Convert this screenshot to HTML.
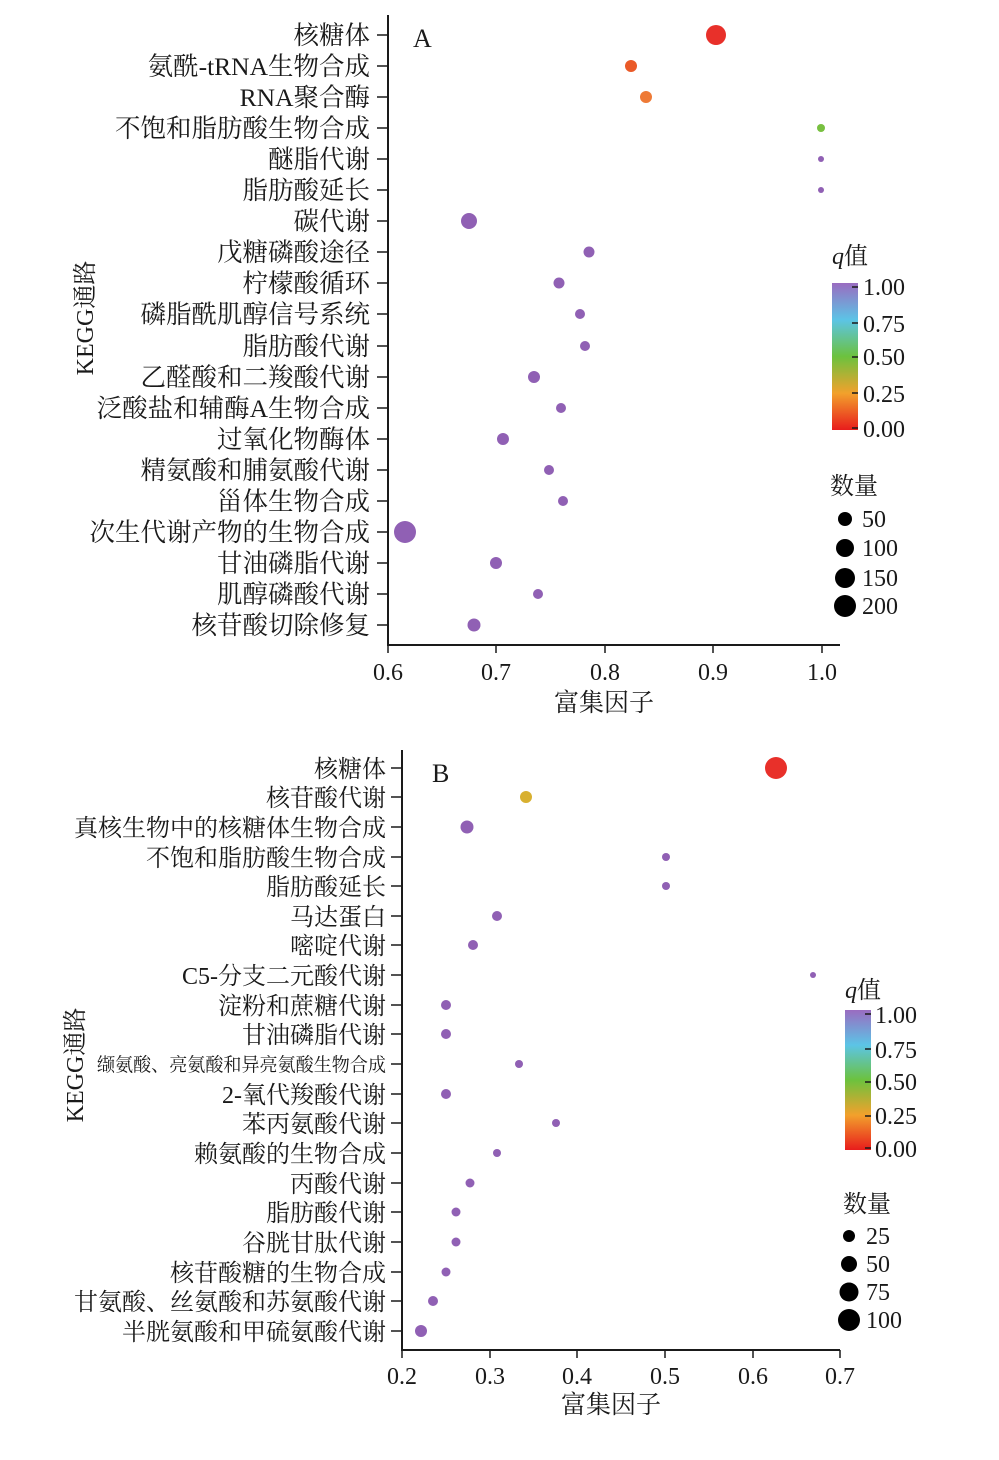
<!DOCTYPE html>
<html><head><meta charset="utf-8"><style>
html,body{margin:0;padding:0;background:#fff}
svg{display:block}
text{font-family:"Liberation Serif","Noto Serif CJK SC",serif;fill:#1a1a1a}
</style></head><body>
<svg width="999" height="1460" viewBox="0 0 999 1460" xmlns="http://www.w3.org/2000/svg">
<defs>
<linearGradient id="g" x1="0" y1="0" x2="0" y2="1">
<stop offset="0" stop-color="#9a6cc0"/>
<stop offset="0.25" stop-color="#5cc4e6"/>
<stop offset="0.5" stop-color="#6cc23e"/>
<stop offset="0.75" stop-color="#f2a12c"/>
<stop offset="1" stop-color="#e81c1c"/>
</linearGradient>
</defs>
<g stroke="#1a1a1a" stroke-width="2" fill="none">
<path d="M388 15 V645 H840"/>
<path d="M402 750 V1350 H840"/>
</g>
<g font-size="25.5" text-anchor="end">
<text x="370" y="44">核糖体</text>
<text x="370" y="75">氨酰-tRNA生物合成</text>
<text x="370" y="106">RNA聚合酶</text>
<text x="370" y="137">不饱和脂肪酸生物合成</text>
<text x="370" y="168">醚脂代谢</text>
<text x="370" y="199">脂肪酸延长</text>
<text x="370" y="230">碳代谢</text>
<text x="370" y="261">戊糖磷酸途径</text>
<text x="370" y="292">柠檬酸循环</text>
<text x="370" y="323">磷脂酰肌醇信号系统</text>
<text x="370" y="355">脂肪酸代谢</text>
<text x="370" y="386">乙醛酸和二羧酸代谢</text>
<text x="370" y="417">泛酸盐和辅酶A生物合成</text>
<text x="370" y="448">过氧化物酶体</text>
<text x="370" y="479">精氨酸和脯氨酸代谢</text>
<text x="370" y="510">甾体生物合成</text>
<text x="370" y="541">次生代谢产物的生物合成</text>
<text x="370" y="572">甘油磷脂代谢</text>
<text x="370" y="603">肌醇磷酸代谢</text>
<text x="370" y="634">核苷酸切除修复</text>
</g>
<g stroke="#1a1a1a" stroke-width="1.5">
<path d="M377 35h11M377 66h11M377 97h11M377 128h11M377 159h11M377 190h11M377 221h11M377 252h11M377 283h11M377 314h11M377 346h11M377 377h11M377 408h11M377 439h11M377 470h11M377 501h11M377 532h11M377 563h11M377 594h11M377 625h11"/>
<path d="M388 645v8M496 645v8M605 645v8M713 645v8M822 645v8"/>
<path d="M391 768h11M391 797h11M391 827h11M391 857h11M391 886h11M391 916h11M391 945h11M391 975h11M391 1005h11M391 1034h11M391 1064h11M391 1094h11M391 1123h11M391 1153h11M391 1183h11M391 1212h11M391 1242h11M391 1272h11M391 1301h11M391 1331h11"/>
<path d="M402 1350v8M490 1350v8M577 1350v8M665 1350v8M753 1350v8M840 1350v8"/>
</g>
<g font-size="24" text-anchor="middle">
<text x="388" y="680">0.6</text><text x="496" y="680">0.7</text><text x="605" y="680">0.8</text><text x="713" y="680">0.9</text><text x="822" y="680">1.0</text>
<text x="604" y="711" font-size="25">富集因子</text>
<text x="402" y="1384">0.2</text><text x="490" y="1384">0.3</text><text x="577" y="1384">0.4</text><text x="665" y="1384">0.5</text><text x="753" y="1384">0.6</text><text x="840" y="1384">0.7</text>
<text x="611" y="1413" font-size="25">富集因子</text>
<text transform="translate(93,318) rotate(-90)">KEGG通路</text>
<text transform="translate(83,1065) rotate(-90)">KEGG通路</text>
</g>
<text x="413" y="47" font-size="26">A</text>
<text x="432" y="782" font-size="26">B</text>
<g>
<circle cx="716" cy="35" r="10" fill="#e8302a"/>
<circle cx="631" cy="66" r="6" fill="#ea5a28"/>
<circle cx="646" cy="97" r="6" fill="#ee7a36"/>
<circle cx="821" cy="128" r="4" fill="#78c040"/>
<g fill="#9060b4">
<circle cx="821" cy="159" r="3"/><circle cx="821" cy="190" r="3"/>
<circle cx="469" cy="221" r="8"/><circle cx="589" cy="252" r="5.5"/>
<circle cx="559" cy="283" r="5.5"/><circle cx="580" cy="314" r="5"/>
<circle cx="585" cy="346" r="5"/><circle cx="534" cy="377" r="6"/>
<circle cx="561" cy="408" r="5"/><circle cx="503" cy="439" r="6"/>
<circle cx="549" cy="470" r="5"/><circle cx="563" cy="501" r="5"/>
<circle cx="405" cy="532" r="11"/><circle cx="496" cy="563" r="6"/>
<circle cx="538" cy="594" r="5"/><circle cx="474" cy="625" r="6.5"/>
</g>
<circle cx="776" cy="768" r="11" fill="#e8302a"/>
<circle cx="526" cy="797" r="6" fill="#d8b030"/>
<g fill="#9060b4">
<circle cx="467" cy="827" r="6.5"/><circle cx="666" cy="857" r="4"/>
<circle cx="666" cy="886" r="4"/><circle cx="497" cy="916" r="5"/>
<circle cx="473" cy="945" r="5"/><circle cx="813" cy="975" r="3"/>
<circle cx="446" cy="1005" r="5"/><circle cx="446" cy="1034" r="5"/>
<circle cx="519" cy="1064" r="4"/><circle cx="446" cy="1094" r="5"/>
<circle cx="556" cy="1123" r="4"/><circle cx="497" cy="1153" r="4"/>
<circle cx="470" cy="1183" r="4.5"/><circle cx="456" cy="1212" r="4.5"/>
<circle cx="456" cy="1242" r="4.5"/><circle cx="446" cy="1272" r="4.5"/>
<circle cx="433" cy="1301" r="5"/><circle cx="421" cy="1331" r="6"/>
</g>
</g>
<g font-size="24" text-anchor="end">
<text x="386" y="777">核糖体</text>
<text x="386" y="806">核苷酸代谢</text>
<text x="386" y="836">真核生物中的核糖体生物合成</text>
<text x="386" y="866">不饱和脂肪酸生物合成</text>
<text x="386" y="895">脂肪酸延长</text>
<text x="386" y="925">马达蛋白</text>
<text x="386" y="954">嘧啶代谢</text>
<text x="386" y="984">C5-分支二元酸代谢</text>
<text x="386" y="1014">淀粉和蔗糖代谢</text>
<text x="386" y="1043">甘油磷脂代谢</text>
<text x="386" y="1071" font-size="19" textLength="289" lengthAdjust="spacingAndGlyphs">缬氨酸、亮氨酸和异亮氨酸生物合成</text>
<text x="386" y="1103">2-氧代羧酸代谢</text>
<text x="386" y="1132">苯丙氨酸代谢</text>
<text x="386" y="1162">赖氨酸的生物合成</text>
<text x="386" y="1192">丙酸代谢</text>
<text x="386" y="1221">脂肪酸代谢</text>
<text x="386" y="1251">谷胱甘肽代谢</text>
<text x="386" y="1281">核苷酸糖的生物合成</text>
<text x="386" y="1310">甘氨酸、丝氨酸和苏氨酸代谢</text>
<text x="386" y="1340">半胱氨酸和甲硫氨酸代谢</text>
</g>
<text x="832" y="264" font-size="24"><tspan font-style="italic">q</tspan>值</text>
<rect x="832" y="283" width="26" height="147" fill="url(#g)"/>
<g stroke="#1a1a1a" stroke-width="1.5"><path d="M852 287h6M852 323h6M852 357h6M852 393h6M852 428h6"/></g>
<g font-size="24"><text x="863" y="295">1.00</text><text x="863" y="332">0.75</text><text x="863" y="365">0.50</text><text x="863" y="402">0.25</text><text x="863" y="437">0.00</text></g>
<text x="830" y="494" font-size="24">数量</text>
<g fill="#000"><circle cx="845" cy="519" r="7"/><circle cx="845" cy="548" r="9"/><circle cx="845" cy="578" r="10"/><circle cx="845" cy="606" r="11"/></g>
<g font-size="24"><text x="862" y="527">50</text><text x="862" y="556">100</text><text x="862" y="586">150</text><text x="862" y="614">200</text></g>
<text x="845" y="998" font-size="24"><tspan font-style="italic">q</tspan>值</text>
<rect x="845" y="1010" width="26" height="140" fill="url(#g)"/>
<g stroke="#1a1a1a" stroke-width="1.5"><path d="M865 1014h6M865 1049h6M865 1082h6M865 1116h6M865 1148h6"/></g>
<g font-size="24"><text x="875" y="1023">1.00</text><text x="875" y="1058">0.75</text><text x="875" y="1090">0.50</text><text x="875" y="1124">0.25</text><text x="875" y="1157">0.00</text></g>
<text x="843" y="1212" font-size="24">数量</text>
<g fill="#000"><circle cx="849" cy="1236" r="6"/><circle cx="849" cy="1264" r="8"/><circle cx="849" cy="1292" r="9.5"/><circle cx="849" cy="1320" r="11"/></g>
<g font-size="24"><text x="866" y="1244">25</text><text x="866" y="1272">50</text><text x="866" y="1300">75</text><text x="866" y="1328">100</text></g>
</svg>
</body></html>
